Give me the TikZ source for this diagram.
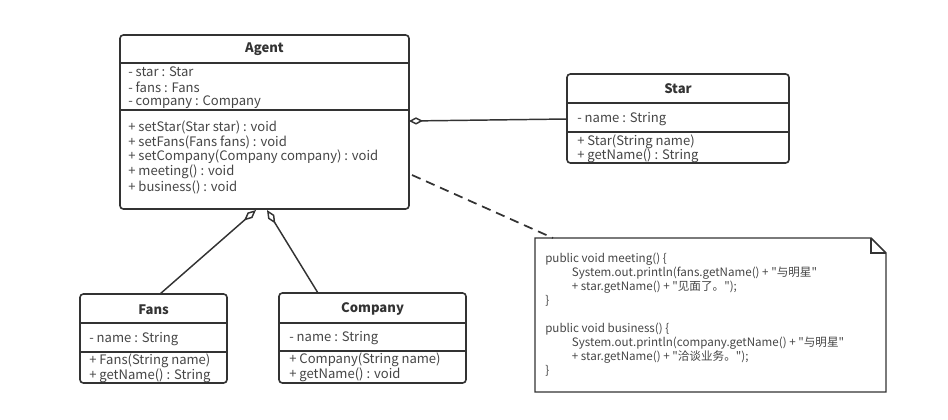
\documentclass[tikz,border=0pt]{standalone}
\usepackage{fontspec}
\setmainfont{Noto Sans CJK SC}
\newfontfamily\codefont{Noto Sans CJK SC}
\usetikzlibrary{arrows.meta,fit}
\definecolor{boxgray}{HTML}{333333}
\definecolor{txtgray}{HTML}{454545}
\tikzset{
    classbox/.style={draw=boxgray, line width=1.2pt, rounded corners=2.5pt, inner sep=0pt},
    divider/.style={draw=boxgray, line width=1.1pt},
    classname/.style={inner sep=0pt, font=\fontsize{9.8}{11}\selectfont\bfseries, text=boxgray},
    member/.style={anchor=west, inner sep=0pt, font=\fontsize{9.8}{11}\selectfont, text=txtgray},
    codetext/.style={anchor=north west, inner sep=0pt, align=left, font=\codefont\fontsize{8.7}{10.5}\selectfont, text=txtgray},
    aggr/.style={draw=boxgray, line width=1.1pt, -{Diamond[open, length=#1, width=5.5pt, line width=1.1pt]}},
    aggr/.default=10.5pt,
    notelink/.style={draw=boxgray, line width=1.3pt, dash pattern=on 7pt off 4.5pt},
}
\begin{document}
\begin{tikzpicture}[x=0.75pt, y=-0.75pt]
\useasboundingbox (0,0) rectangle (948,419);
% Agent
\node[classbox, fit={(120,35) (409,209)}] (agent) {};
\draw[divider] (120,63) -- (409,63);
\draw[divider] (120,110) -- (409,110);
\node[classname] (agentName) at (264.5,49) {Agent};
\node[member] (agentA1) at (128,72) {- star : Star};
\node[member] (agentA2) at (128,87) {- fans : Fans};
\node[member] (agentA3) at (128,102) {- company : Company};
\node[member] (agentM1) at (128,127) {+ setStar(Star star) : void};
\node[member] (agentM2) at (128,142) {+ setFans(Fans fans) : void};
\node[member] (agentM3) at (128,157) {+ setCompany(Company company) : void};
\node[member] (agentM4) at (128,172) {+ meeting() : void};
\node[member] (agentM5) at (128,187) {+ business() : void};
% Star
\node[classbox, fit={(567,74) (789,163)}] (star) {};
\draw[divider] (567,103) -- (789,103);
\draw[divider] (567,132) -- (789,132);
\node[classname] (starName) at (678,89) {Star};
\node[member] (starA1) at (577,119) {- name : String};
\node[member] (starM1) at (577,142) {+ Star(String name)};
\node[member] (starM2) at (577,156) {+ getName() : String};
% Fans
\node[classbox, fit={(80,294) (227,383)}] (fans) {};
\draw[divider] (80,323) -- (227,323);
\draw[divider] (80,352) -- (227,352);
\node[classname] (fansName) at (153.5,310) {Fans};
\node[member] (fansA1) at (89,339) {- name : String};
\node[member] (fansM1) at (89,361) {+ Fans(String name)};
\node[member] (fansM2) at (89,376) {+ getName() : String};
% Company
\node[classbox, fit={(279,293) (466,383)}] (company) {};
\draw[divider] (279,323) -- (466,323);
\draw[divider] (279,351) -- (466,351);
\node[classname] (companyName) at (372.5,309) {Company};
\node[member] (companyA1) at (289,338) {- name : String};
\node[member] (companyM1) at (289,360) {+ Company(String name)};
\node[member] (companyM2) at (289,375) {+ getName() : void};
% note
\coordinate (noteTL) at (535,238);
\draw[divider] (noteTL) -- (871,238) -- (886,253) -- (886,392) -- (535,392) -- cycle;
\draw[divider] (871,238) -- (871,253) -- (886,253);
\node[codetext] (code) at (545,253) {public void meeting() \{\\
\hspace*{20pt}System.out.println(fans.getName() + "与明星"\\
\hspace*{20pt}+ star.getName() + "见面了。");\\
\}\\[10.5pt]
public void business() \{\\
\hspace*{20pt}System.out.println(company.getName() + "与明星"\\
\hspace*{20pt}+ star.getName() + "洽谈业务。");\\
\}};
% connectors
\coordinate (starEnd) at (567,119);
\coordinate (agentR) at (409,121);
\coordinate (fansTop) at (160,294);
\coordinate (agentB1) at (256,210);
\coordinate (companyTop) at (318,293);
\coordinate (agentB2) at (267,210);
\coordinate (agentNote) at (412,175);
\coordinate (noteTop) at (553,238);
\draw[aggr] (starEnd) -- (agentR);
\draw[aggr=12pt] (fansTop) -- (agentB1);
\draw[aggr=12pt] (companyTop) -- (agentB2);
\draw[notelink] (agentNote) -- (noteTop);
\end{tikzpicture}
\end{document}
